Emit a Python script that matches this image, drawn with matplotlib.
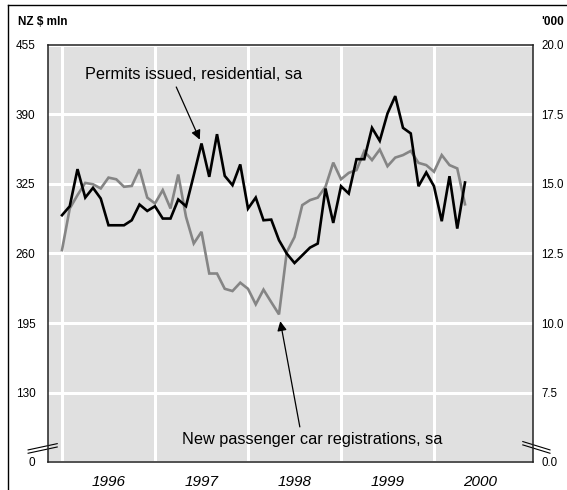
import matplotlib
matplotlib.use("Agg")
import matplotlib.pyplot as plt
from matplotlib.lines import Line2D
from matplotlib.ticker import FixedLocator, FixedFormatter, NullFormatter
import numpy as np

######################################################################
############################### Data #################################

# monthly, Jan 1996 .. May 2000
permits = [295.8, 304.2, 338.9, 312.3, 321.4, 311.4, 286.4, 286.4, 286.4, 291.1,
           305.8, 299.8, 304.2, 292.7, 292.7, 310.5, 304.2, 333.2, 362.9, 331.7,
           371.6, 332.6, 323.9, 343.3, 302.0, 312.3, 291.1, 291.7, 272.4, 259.9,
           251.1, 258.3, 265.5, 269.3, 320.8, 288.6, 322.9, 316.1, 348.2, 348.2,
           377.5, 365.4, 391.0, 407.2, 377.5, 372.3, 322.9, 335.8, 322.9, 290.2,
           332.3, 283.3, 326.4]
cars = [12.62, 14.12, 14.60, 15.04, 14.99, 14.84, 15.23, 15.17, 14.90, 14.93,
        15.53, 14.51, 14.30, 14.78, 14.12, 15.34, 13.82, 12.86, 13.28, 11.78,
        11.78, 11.23, 11.15, 11.45, 11.23, 10.67, 11.20, 10.75, 10.31, 12.55,
        13.09, 14.24, 14.42, 14.51, 14.90, 15.77, 15.17, 15.40, 15.50, 16.18,
        15.86, 16.24, 15.64, 15.95, 16.04, 16.19, 15.76, 15.68, 15.44, 16.04,
        15.68, 15.56, 14.27]
start_year = 1996
years = [1996, 1997, 1998, 1999, 2000]
left_ticks = [65, 130, 195, 260, 325, 390, 455]
left_labels = ["0", "130", "195", "260", "325", "390", "455"]
right_ticks = [5.0, 7.5, 10.0, 12.5, 15.0, 17.5, 20.0]
right_labels = ["0.0", "7.5", "10.0", "12.5", "15.0", "17.5", "20.0"]

x = start_year + np.arange(len(permits)) / 12.0

######################################################################
############################### Figure ###############################

plt.rcParams["font.family"] = ["Liberation Sans", "DejaVu Sans"]
BG = "#e0e0e0"
GREY = "#858585"

fig = plt.figure(figsize=(5.67, 4.90), dpi=100)
W, H = 567.0, 490.0
ax = fig.add_axes([48 / W, 1 - 462 / H, 485 / W, 417 / H])
ax2 = ax.twinx()

# black line in front, grey background + grid on the twin behind it
ax.set_zorder(ax2.get_zorder() + 1)
ax.patch.set_visible(False)
ax2.patch.set_visible(True)
ax2.set_facecolor(BG)
ax2.xaxis.set_visible(True)

ax.set_xlim(start_year - 14 / 93.0, start_year + 471 / 93.0)
ax.set_ylim(65, 455)
ax2.set_ylim(5, 20)

ax.xaxis.set_major_locator(FixedLocator(years))
ax.xaxis.set_major_formatter(NullFormatter())
ax.xaxis.set_minor_locator(FixedLocator([y + 0.5 for y in years]))
ax.xaxis.set_minor_formatter(FixedFormatter([str(y) for y in years]))
ax.tick_params(axis="x", which="both", length=0, pad=9, labelsize=11)
for lbl in ax.get_xticklabels(minor=True):
    lbl.set_fontstyle("italic")
ax2.tick_params(axis="x", which="both", length=0, labelbottom=False)

ax.yaxis.set_major_locator(FixedLocator(left_ticks))
ax.yaxis.set_major_formatter(FixedFormatter(left_labels))
ax.tick_params(axis="y", length=0, pad=9, labelsize=8.5)
ax2.yaxis.set_major_locator(FixedLocator(right_ticks))
ax2.yaxis.set_major_formatter(FixedFormatter(right_labels))
ax2.tick_params(axis="y", length=0, pad=6, labelsize=8.3)

ax2.set_axisbelow(True)
ax2.grid(True, which="major", color="white", lw=2.2)

for sp in ax.spines.values():
    sp.set_linewidth(1.1)
    sp.set_color("#222222")
for sp in ax2.spines.values():
    sp.set_visible(False)

ax.plot(x, permits, color="black", lw=1.9, solid_joinstyle="miter", zorder=3)
ax2.plot(x, cars, color=GREY, lw=1.9, solid_joinstyle="miter", zorder=3)

# annotations
ax.annotate("Permits issued, residential, sa", xy=(x[18], permits[18]),
            xytext=(0.076, 0.93), textcoords="axes fraction",
            ha="left", va="center", fontsize=11.7,
            arrowprops=dict(arrowstyle="-|>", color="black", lw=0.9,
                            mutation_scale=14, shrinkA=2, shrinkB=3,
                            relpos=(0.41, 0.0)))
ax2.annotate("New passenger car registrations, sa", xy=(x[28], cars[28]),
             xytext=(0.276, 0.053), textcoords="axes fraction",
             ha="left", va="center", fontsize=11.7, zorder=5,
             arrowprops=dict(arrowstyle="-|>", color="black", lw=0.9,
                             mutation_scale=14, shrinkA=2, shrinkB=5,
                             relpos=(0.457, 1.0)))

# axis break marks
for dy in (0.0, 0.008):
    ax.add_line(Line2D([-0.041, 0.019], [0.021 + dy, 0.036 + dy],
                       transform=ax.transAxes, color="black", lw=0.8,
                       clip_on=False))
    ax.add_line(Line2D([0.979, 1.035], [0.041 + dy, 0.021 + dy],
                       transform=ax.transAxes, color="black", lw=0.8,
                       clip_on=False))

# unit labels
fig.text(18 / W, 1 - 22 / H, "NZ $ mln", fontsize=8.5, fontweight="bold",
         ha="left", va="center")
fig.text(541 / W, 1 - 22 / H, "'000", fontsize=8.5, fontweight="bold",
         ha="left", va="center")

# outer frame (top and left edges)
fig.add_artist(Line2D([8 / W, 1.0], [1 - 5 / H, 1 - 5 / H],
                      transform=fig.transFigure, color="black", lw=1.0))
fig.add_artist(Line2D([8 / W, 8 / W], [0.0, 1 - 5 / H],
                      transform=fig.transFigure, color="black", lw=1.0))

fig.savefig("out.png", dpi=100)
